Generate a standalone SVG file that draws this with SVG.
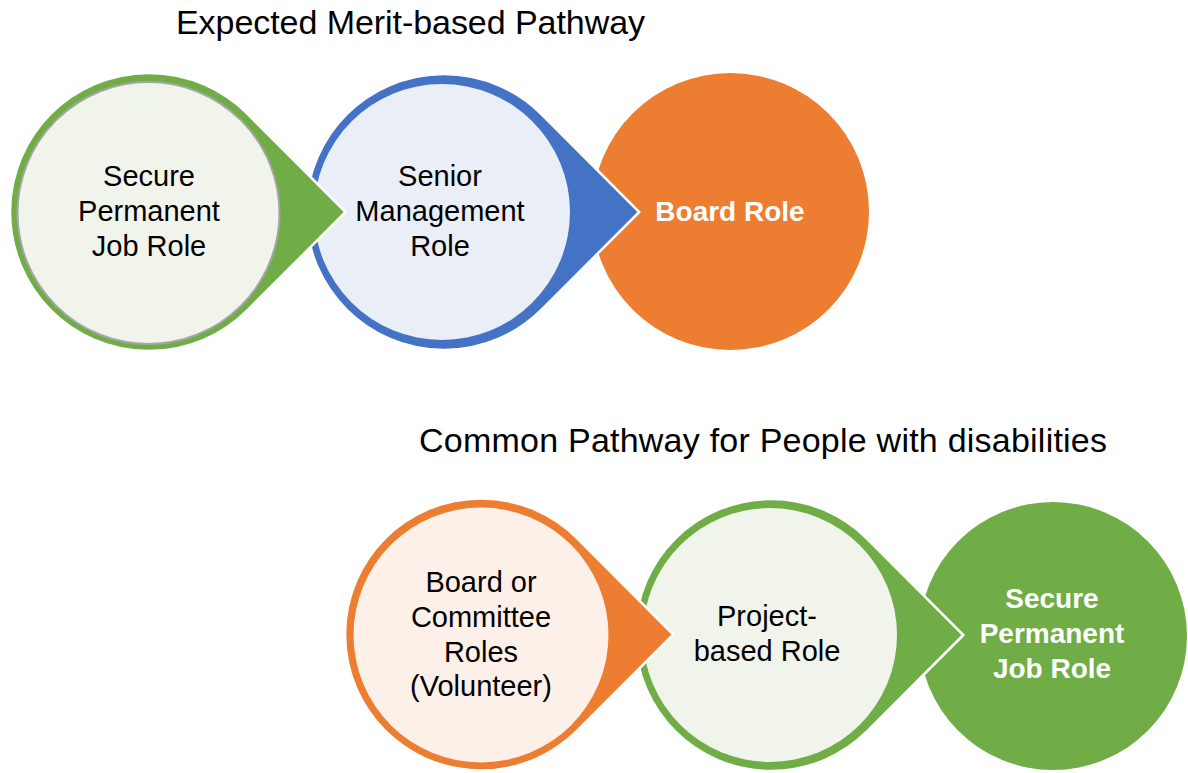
<svg xmlns="http://www.w3.org/2000/svg" width="1188" height="773" viewBox="0 0 1188 773">
<style>
.title{font-family:"Liberation Sans",Arial,sans-serif;font-size:34px;fill:#000}
.lbl{font-family:"Liberation Sans",Arial,sans-serif;font-size:29px;fill:#000;text-anchor:middle}
.lblw{font-family:"Liberation Sans",Arial,sans-serif;font-size:28px;font-weight:bold;fill:#fff;text-anchor:middle}
.drop{stroke:#fff;stroke-width:2.5;stroke-linejoin:miter}
.green{fill:#70ad47}
.blue{fill:#4472c4}
.orange{fill:#ed7d31}
</style>
<rect width="1188" height="773" fill="#fff"/>
<text class="title" x="176" y="34" textLength="469">Expected Merit-based Pathway</text>
<text class="title" x="419" y="452" textLength="688">Common Pathway for People with disabilities</text>
<g id="connectors"/>
<!-- top row, drawn right to left so tips overlap -->
<g id="node-board-role">
<circle class="orange" cx="730.5" cy="211.5" r="138.5"/>
<text class="lblw" x="730" y="221">Board Role</text>
</g>
<g id="node-senior-management">
<path class="blue drop" d="M639.2 212 L541.6 309.6 A138 138 0 1 1 541.6 114.4 Z"/>
<circle cx="442" cy="212" r="128" fill="#e9eef7"/>
<text class="lbl" x="440" y="186">Senior</text>
<text class="lbl" x="440" y="221">Management</text>
<text class="lbl" x="440" y="256">Role</text>
</g>
<g id="node-secure-permanent-top">
<path class="green drop" d="M345.6 212 L247.3 310.3 A139 139 0 1 1 247.3 113.7 Z"/>
<circle cx="148.5" cy="213" r="131" fill="#f0f4eb" stroke="#a5a5a5" stroke-width="2"/>
<text class="lbl" x="149" y="186">Secure</text>
<text class="lbl" x="149" y="221">Permanent</text>
<text class="lbl" x="149" y="256">Job Role</text>
</g>
<!-- bottom row -->
<g id="node-secure-permanent-bottom">
<circle class="green" cx="1053" cy="636" r="134"/>
<text class="lblw" x="1052" y="608">Secure</text>
<text class="lblw" x="1052" y="643">Permanent</text>
<text class="lblw" x="1052" y="678">Job Role</text>
</g>
<g id="node-project-based">
<path class="green drop" d="M963.3 635 L867.2 731.2 A136 136 0 1 1 867.2 538.8 Z"/>
<circle cx="770" cy="635" r="127" fill="#f0f4eb"/>
<text class="lbl" x="767" y="626">Project-</text>
<text class="lbl" x="767" y="661">based Role</text>
</g>
<g id="node-board-committee">
<path class="orange drop" d="M673.3 634.5 L577.2 730.7 A136 136 0 1 1 577.2 538.3 Z"/>
<circle cx="481" cy="635" r="127.5" fill="#fdf0e8"/>
<text class="lbl" x="481" y="592">Board or</text>
<text class="lbl" x="481" y="627">Committee</text>
<text class="lbl" x="481" y="662">Roles</text>
<text class="lbl" x="481" y="696">(Volunteer)</text>
</g>
</svg>
